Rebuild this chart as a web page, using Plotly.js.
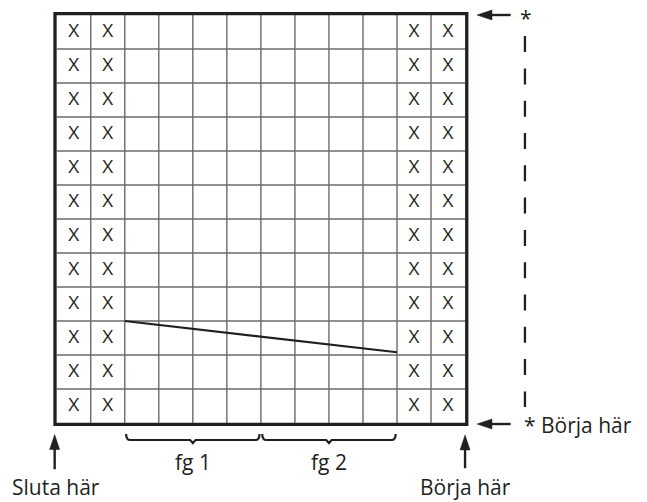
<!DOCTYPE html>
<html>
<head>
<meta charset="utf-8">
<script src="https://cdn.plot.ly/plotly-3.0.1.min.js"></script>
<style>html,body{margin:0;padding:0;background:#fff;}#chart{width:647px;height:502px;}</style>
</head>
<body>
<div id="chart"></div>
<script>
// ---- data ----
const nCols = 12;
const nRows = 12;
const markedCols = [0, 1, 10, 11];      // columns filled with X in every row
const markSymbol = 'X';
const slantX = [2, 10];                 // diagonal line (column boundaries)
const slantY = [3.0, 2.08];             // diagonal line (row positions)
const braceLabels = ['fg 1', 'fg 2'];
const braceFrom = [2, 6];
const braceTo = [6, 10];
const startLabel = 'Börja här';
const endLabel = 'Sluta här';
const repeatStartLabel = '* Börja här';
const repeatEndLabel = '*';

// ---- geometry (pixels per data unit) ----
const W = 647, H = 502;
const left = 56.7, bottom = 423, cw = 34.03, rh = 34.0;
const xr = [-left / cw, (W - left) / cw];
const yr = [(bottom - H) / rh, bottom / rh];
const ink = '#231f20';
const gridCol = '#6b6b6b';
const FONT = 'Open Sans, Noto Sans, sans-serif';

const shapes = [];
// grid lines
for (let k = 1; k < nCols; k++) {
  shapes.push({type: 'line', xref: 'x', yref: 'y', x0: k, x1: k, y0: 0, y1: nRows,
    line: {color: gridCol, width: 1.4}, layer: 'below'});
}
for (let k = 1; k < nRows; k++) {
  shapes.push({type: 'line', xref: 'x', yref: 'y', x0: 0, x1: nCols, y0: k, y1: k,
    line: {color: gridCol, width: 1.4}, layer: 'below'});
}
// border
shapes.push({type: 'rect', xref: 'x', yref: 'y', x0: -0.05, x1: nCols + 0.05, y0: -0.04, y1: nRows + 0.04,
  line: {color: ink, width: 3.3}});

// diagonal
shapes.push({type: 'line', xref: 'x', yref: 'y', x0: slantX[0], x1: slantX[1], y0: slantY[0], y1: slantY[1],
  line: {color: ink, width: 2.2}});

// braces
const bY = -0.5, bHook = -0.32, bTip = -0.59;
for (let i = 0; i < braceLabels.length; i++) {
  const a = braceFrom[i] + 0.04, b = braceTo[i] - 0.04, c = (braceFrom[i] + braceTo[i]) / 2;
  const r = 0.12;
  const p = `M${a},${bHook} Q${a},${bY} ${a + r},${bY} L${c - 0.08},${bY} L${c},${bTip} L${c + 0.08},${bY} L${b - r},${bY} Q${b},${bY} ${b},${bHook}`;
  shapes.push({type: 'path', xref: 'x', yref: 'y', path: p, line: {color: ink, width: 2.2}});
}

// arrows
function arrow(tx, ty, hx, hy) {
  const dxp = (hx - tx) * cw, dyp = (hy - ty) * rh;
  const len = Math.hypot(dxp, dyp);
  const ux = dxp / len, uy = dyp / len;
  const L = 15, Wd = 5;
  const bx = tx * cw + ux * L, by = ty * rh + uy * L;
  shapes.push({type: 'line', xref: 'x', yref: 'y', x0: bx / cw - ux * 0.02, y0: by / rh - uy * 0.02, x1: hx, y1: hy,
    line: {color: ink, width: 2.4}});
  const p1x = (bx - uy * Wd) / cw, p1y = (by + ux * Wd) / rh;
  const p2x = (bx + uy * Wd) / cw, p2y = (by - ux * Wd) / rh;
  shapes.push({type: 'path', xref: 'x', yref: 'y', path: `M${tx},${ty} L${p1x},${p1y} L${p2x},${p2y} Z`,
    fillcolor: ink, line: {color: ink, width: 0.5}});
}
arrow(12.35, 12.0, 13.34, 12.0);
arrow(12.35, -0.03, 13.34, -0.03);
arrow(-0.06, -0.34, -0.06, -1.36);
arrow(12.0, -0.35, 12.0, -1.33);

// dashed repeat line
shapes.push({type: 'line', xref: 'x', yref: 'y', x0: 13.76, x1: 13.76, y0: 11.38, y1: 0.47,
  line: {color: ink, width: 2.3, dash: '16px,16.3px'}});

// X marks
const mx = [], my = [], mt = [];
for (let r = 0; r < nRows; r++) {
  for (const c of markedCols) { mx.push(c + 0.5); my.push(r + 0.5); mt.push(markSymbol); }
}

const annotations = [
  {x: 13.78, y: 11.9, text: repeatEndLabel, xanchor: 'center', yanchor: 'middle'},
  {x: 13.66, y: -0.07, text: repeatStartLabel, xanchor: 'left', yanchor: 'middle'},
  {x: -0.03, y: -1.87, text: endLabel, xanchor: 'center', yanchor: 'middle'},
  {x: 12.0, y: -1.87, text: startLabel, xanchor: 'center', yanchor: 'middle'}
];
for (let i = 0; i < braceLabels.length; i++) {
  annotations.push({x: (braceFrom[i] + braceTo[i]) / 2, y: -1.14, text: braceLabels[i], xanchor: 'center', yanchor: 'middle'});
}
annotations.forEach(a => { a.xref = 'x'; a.yref = 'y'; a.showarrow = false; a.font = {family: FONT, size: 21, color: ink}; });

const data = [{
  type: 'scatter', mode: 'text', x: mx, y: my, text: mt,
  textposition: 'middle center',
  textfont: {family: FONT, size: 19, color: ink},
  hoverinfo: 'skip', showlegend: false, cliponaxis: false
}];

const layout = {
  width: W, height: H,
  margin: {l: 0, r: 0, t: 0, b: 0, pad: 0},
  paper_bgcolor: '#fff', plot_bgcolor: '#fff',
  xaxis: {range: xr, visible: false, fixedrange: true},
  yaxis: {range: yr, visible: false, fixedrange: true},
  shapes: shapes, annotations: annotations, showlegend: false
};
Plotly.newPlot('chart', data, layout, {staticPlot: true, displayModeBar: false});
</script>
</body>
</html>
